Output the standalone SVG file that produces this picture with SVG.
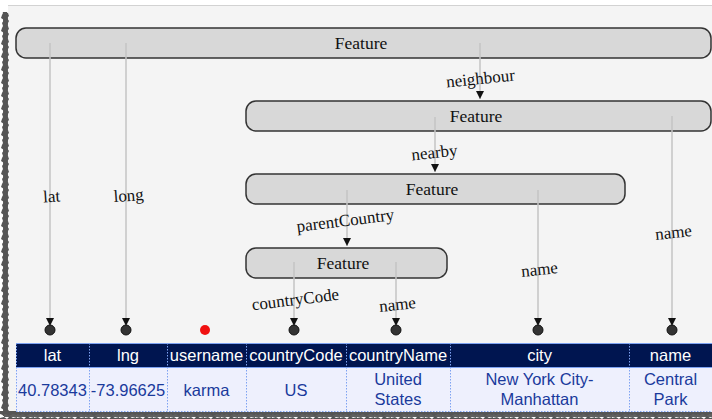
<svg xmlns="http://www.w3.org/2000/svg" width="712" height="419" viewBox="0 0 712 419">
<defs>
<style>
.box{fill:#d8d8d8;stroke:#333;stroke-width:1.5}
.ft{font-family:"Liberation Serif",serif;font-size:17.5px;fill:#111;text-anchor:middle}
.lb{font-family:"Liberation Serif",serif;font-size:17px;fill:#111;text-anchor:middle}
.ln{stroke:#c4c4c4;stroke-width:1.5;fill:none;marker-end:url(#ah)}
.dot{fill:#333;stroke:#111;stroke-width:1}
.hd{font-family:"Liberation Sans",Arial,sans-serif;font-size:16.5px;fill:#fff;text-anchor:middle}
.dt{font-family:"Liberation Sans",Arial,sans-serif;font-size:16.5px;fill:#1a3a9c;text-anchor:middle}
.sep{stroke:#7ea3f2;stroke-width:1;stroke-dasharray:1.5 1.5}
</style>
<marker id="ah" viewBox="0 0 10 10" refX="10" refY="5" markerWidth="8" markerHeight="8" markerUnits="userSpaceOnUse" orient="auto">
<path d="M0,0 L10,5 L0,10 z" fill="#111"/>
</marker>
<pattern id="tornV" x="0" y="0" width="10" height="13" patternUnits="userSpaceOnUse">
<polygon points="3,0 8,0 9,3 7,5 9,8 8,10 7,13 3,13 2,10 4,7 1,5 2,2" fill="#555"/>
</pattern>
<pattern id="tornH" x="0" y="0" width="17" height="8" patternUnits="userSpaceOnUse">
<polygon points="0,2 4,1 7,3 10,0 13,2 17,1 17,7 13,6 9,8 6,6 3,7 0,6" fill="#555"/>
</pattern>
<filter id="soft" x="-0.1" y="-0.1" width="1.2" height="1.2">
<feGaussianBlur stdDeviation="0.5"/>
</filter>
</defs>
<rect x="0" y="0" width="712" height="419" fill="#fff"/>
<rect x="8" y="5" width="704" height="410" fill="#f4f4f4"/>
<line x1="8" y1="5.5" x2="712" y2="5.5" stroke="#d2d2d2" stroke-width="1"/>
<g filter="url(#soft)">
<rect x="3" y="14" width="5" height="400" fill="#606060"/>
<rect x="0" y="12" width="10" height="404" fill="url(#tornV)"/>
<rect x="4" y="413" width="708" height="4" fill="#606060"/>
<rect x="0" y="411" width="712" height="8" fill="url(#tornH)"/>
</g>

<g id="feature1">
<rect class="box" x="16" y="28" width="695" height="30" rx="10"/>
<text class="ft" x="361" y="49">Feature</text>
</g>
<g id="feature2">
<rect class="box" x="246" y="101" width="465" height="30" rx="10"/>
<text class="ft" x="476" y="122">Feature</text>
</g>
<g id="feature3">
<rect class="box" x="246" y="174" width="379" height="30" rx="10"/>
<text class="ft" x="432" y="195">Feature</text>
</g>
<g id="feature4">
<rect class="box" x="246" y="248" width="201" height="30" rx="10"/>
<text class="ft" x="343" y="269">Feature</text>
</g>

<g id="connectors">
<path class="ln" d="M50,43 V326"/>
<path class="ln" d="M126,43 V326"/>
<path class="ln" d="M480,43 V99"/>
<path class="ln" d="M435,117 V172"/>
<path class="ln" d="M347,190 V246"/>
<path class="ln" d="M294,262 V326"/>
<path class="ln" d="M396,262 V326"/>
<path class="ln" d="M538,190 V326"/>
<path class="ln" d="M672,116 V326"/>
<circle class="dot" cx="50" cy="330" r="5"/>
<circle class="dot" cx="126" cy="330" r="5"/>
<circle cx="205" cy="330" r="5" fill="#f01010"/>
<circle class="dot" cx="294" cy="330" r="5"/>
<circle class="dot" cx="396" cy="330" r="5"/>
<circle class="dot" cx="538" cy="330" r="5"/>
<circle class="dot" cx="672" cy="330" r="5"/>
<text class="lb" transform="translate(52,202) rotate(-4)">lat</text>
<text class="lb" transform="translate(129,201) rotate(-4)">long</text>
<text class="lb" transform="translate(481,84) rotate(-6)">neighbour</text>
<text class="lb" transform="translate(435,158) rotate(-6)">nearby</text>
<text class="lb" transform="translate(346,226) rotate(-7)">parentCountry</text>
<text class="lb" transform="translate(296,305) rotate(-7)">countryCode</text>
<text class="lb" transform="translate(398,310) rotate(-6)">name</text>
<text class="lb" transform="translate(540,275) rotate(-6)">name</text>
<text class="lb" transform="translate(674,238) rotate(-6)">name</text>
</g>

<g id="table">
<rect x="16" y="343" width="696" height="24" fill="#001550"/>
<rect x="16" y="367" width="696" height="45" fill="#eef0fd"/>
<line x1="16" y1="343.5" x2="712" y2="343.5" stroke="#7ea3f2" stroke-width="1"/>
<line x1="16" y1="367.5" x2="712" y2="367.5" stroke="#7ea3f2" stroke-width="1"/>
<line class="sep" x1="16" y1="411.5" x2="712" y2="411.5"/>
<line class="sep" x1="16.5" y1="343" x2="16.5" y2="412"/>
<line class="sep" x1="89.5" y1="343" x2="89.5" y2="412"/>
<line class="sep" x1="167.5" y1="343" x2="167.5" y2="412"/>
<line class="sep" x1="246.5" y1="343" x2="246.5" y2="412"/>
<line class="sep" x1="346.5" y1="343" x2="346.5" y2="412"/>
<line class="sep" x1="450.5" y1="343" x2="450.5" y2="412"/>
<line class="sep" x1="629.5" y1="343" x2="629.5" y2="412"/>
<text class="hd" x="52.5" y="361">lat</text>
<text class="hd" x="128" y="361">lng</text>
<text class="hd" x="206.5" y="361">username</text>
<text class="hd" x="296" y="361">countryCode</text>
<text class="hd" x="398" y="361">countryName</text>
<text class="hd" x="539.5" y="361">city</text>
<text class="hd" x="670.5" y="361">name</text>
<text class="dt" x="52.5" y="396">40.78343</text>
<text class="dt" x="128" y="396">-73.96625</text>
<text class="dt" x="206.5" y="396">karma</text>
<text class="dt" x="296" y="396">US</text>
<text class="dt" x="398" y="385">United</text>
<text class="dt" x="398" y="405">States</text>
<text class="dt" x="539.5" y="385">New York City-</text>
<text class="dt" x="539.5" y="405">Manhattan</text>
<text class="dt" x="670.5" y="385">Central</text>
<text class="dt" x="670.5" y="405">Park</text>
</g>
</svg>
